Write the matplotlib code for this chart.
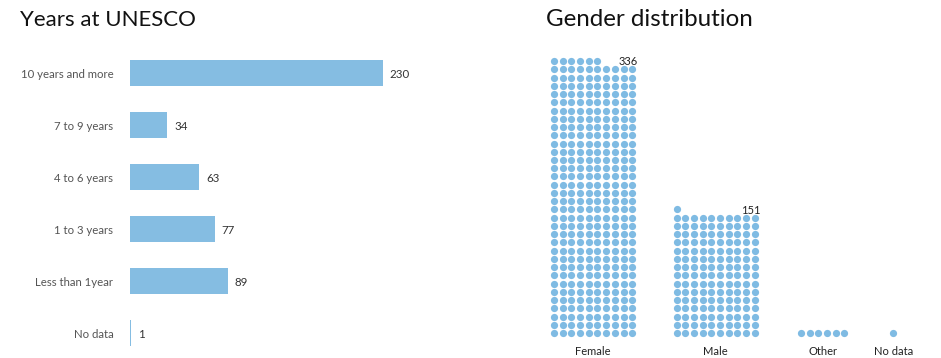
import matplotlib
matplotlib.use("Agg")
from matplotlib import pyplot as plt

plt.rcParams['font.family'] = ['Lato', 'DejaVu Sans']

# years at UNESCO
year_labels = ["10 years and more", "7 to 9 years", "4 to 6 years",
               "1 to 3 years", "Less than 1year", "No data"]
year_counts = [230, 34, 63, 77, 89, 1]

# gender distribution
gender_labels = ["Female", "Male", "Other", "No data"]
gender_counts = [336, 151, 6, 1]
gender_offset = [0, 14.1, 28.4, 39.0]   # start column of each group
n_cols = 10

bar_color = '#85bde2'
dot_color = '#7fbbe3'

fig = plt.figure(figsize=(9.41, 3.58), dpi=100)
W, H = 941, 358

# left: horizontal bars
ax1 = fig.add_axes([130 / W, 1 - 359 / H, 253 / W, 312 / H])
ypos = range(len(year_labels))
ax1.barh(ypos, year_counts, height=0.5, color=bar_color)
for y, v in zip(ypos, year_counts):
    ax1.text(v + 6, y + 0.03, str(v), va='center', ha='left', fontsize=8.3, color='#333333')
ax1.set_xlim(0, 230)
ax1.set_ylim(5.5, -0.5)
ax1.set_yticks(list(ypos))
ax1.set_yticklabels(year_labels, fontsize=8.2, color='#555555')
ax1.tick_params(axis='y', length=0, pad=12)
ax1.set_xticks([])
for s in ax1.spines.values():
    s.set_visible(False)

# right: waffle columns
ax2 = fig.add_axes([540 / W, 0, 401 / W, 318 / H])
for lab, cnt, off in zip(gender_labels, gender_counts, gender_offset):
    xs = [off + i % n_cols for i in range(cnt)]
    ys = [i // n_cols for i in range(cnt)]
    ax2.scatter(xs, ys, s=27, color=dot_color, linewidths=0)
    ax2.text(off + (min(cnt, n_cols) - 1) / 2, -2.3, lab, ha='center', va='center',
             fontsize=8, color='#222222')
    if cnt > 100:
        ax2.text(off + n_cols - 0.4, cnt // n_cols - 0.1, str(cnt), ha='right', va='center',
                 fontsize=8, color='#222222')
ax2.set_xlim(-1.6, 44.5)
ax2.set_ylim(-3.03, 35.56)
ax2.axis('off')

fig.text(20 / W, 1 - 20 / H, "Years at UNESCO", fontsize=16, va='center', ha='left', color='#111111')
fig.text(546 / W, 1 - 20 / H, "Gender distribution", fontsize=17.4, va='center', ha='left', color='#111111')

fig.savefig("out.png", dpi=100, facecolor='white')
